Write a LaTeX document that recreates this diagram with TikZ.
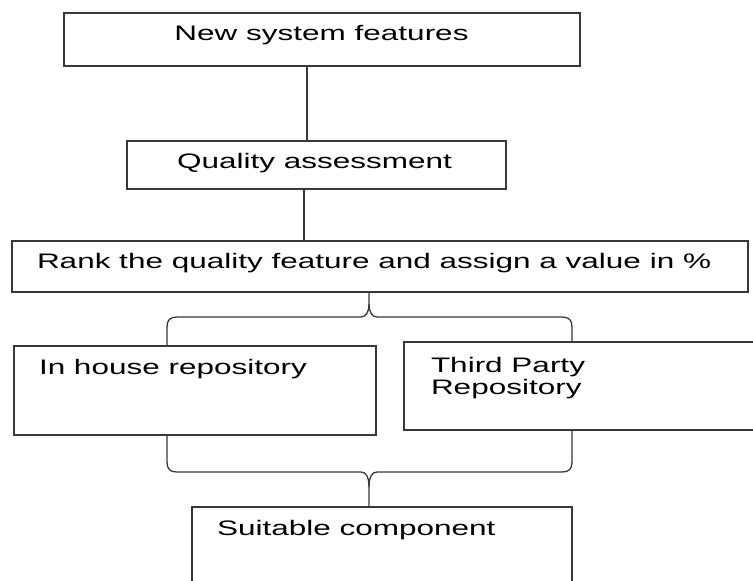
\documentclass[tikz,border=0pt]{standalone}
\usepackage{fontspec}
\setmainfont{Liberation Sans}[FakeStretch=1.5]
\usetikzlibrary{calc}
\begin{document}
\begin{tikzpicture}[x=1pt,y=-1pt,
  boxnode/.style={draw=black!78,line width=1.3pt,rectangle,inner sep=0pt,outer sep=0pt},
  lbl/.style={inner sep=0pt,outer sep=0pt,text=black,font=\fontsize{21}{21.5}\selectfont},
  conn/.style={draw=black!78,line width=1.3pt}]
\useasboundingbox (0,0) rectangle (753,581);
\fill[white] (0,0) rectangle (753,581);
\clip (0,0) rectangle (753,581);
% boxes
\node[boxnode,minimum width=516pt,minimum height=53pt] (b1) at (322,39.5) {};
\node[boxnode,minimum width=379pt,minimum height=48pt] (b2) at (316.5,165) {};
\node[boxnode,minimum width=736pt,minimum height=51pt] (b3) at (380,266.5) {};
\node[boxnode,minimum width=362pt,minimum height=89pt] (b4) at (195,390.5) {};
\node[boxnode,minimum width=376pt,minimum height=88pt] (b5) at (592,386) {};
\node[boxnode,minimum width=380pt,minimum height=93pt] (b6) at (382,553.5) {};
% texts
\node[lbl,anchor=base] (t1) at (321.5,40) {New system features};
\node[lbl,anchor=base] (t2) at (314.5,168) {Quality assessment};
\node[lbl,anchor=base west] (t3) at (37,268) {Rank the quality feature and assign a value in \%};
\node[lbl,anchor=base west] (t4) at (39,374) {In house repository};
\node[lbl,anchor=north west,align=left] (t5) at (431,357.7) {Third Party\\[0.5pt]Repository};
\node[lbl,anchor=base west] (t6) at (217,535) {Suitable component};
% straight connectors
\draw[conn] ([xshift=-15pt]b1.south) -- ([xshift=-15pt]b1.south |- b2.north);
\draw[conn] ([xshift=-12.5pt]b2.south) -- ([xshift=-12.5pt]b2.south |- b3.north);
% top brace
\coordinate (tt) at ([xshift=-11pt]b3.south);
\coordinate (tl) at ([xshift=-28pt]b4.north);
\coordinate (tr) at ([xshift=-20pt]b5.north);
\draw[conn] (tl) -- ($(tl|-tt)+(0,35)$) .. controls ($(tl|-tt)+(0,28)$) and ($(tl|-tt)+(3,25)$) .. ($(tl|-tt)+(10,25)$)
  -- ($(tt)+(-8,25)$) .. controls ($(tt)+(-3,25)$) and ($(tt)+(0,20)$) .. ($(tt)+(0,12)$) -- (tt);
\draw[conn] ($(tt)+(0,12)$) .. controls ($(tt)+(0,20)$) and ($(tt)+(3,25)$) .. ($(tt)+(8,25)$)
  -- ($(tr|-tt)+(-10,25)$) .. controls ($(tr|-tt)+(-3,25)$) and ($(tr|-tt)+(0,28)$) .. ($(tr|-tt)+(0,35)$) -- (tr);
% bottom brace
\coordinate (bt) at ([xshift=-13pt]b6.north);
\coordinate (bl) at ([xshift=-28pt]b4.south);
\coordinate (br) at ([xshift=-20pt]b5.south);
\draw[conn] (bl) -- ($(bl|-bt)+(0,-45)$) .. controls ($(bl|-bt)+(0,-38)$) and ($(bl|-bt)+(3,-35)$) .. ($(bl|-bt)+(10,-35)$)
  -- ($(bt)+(-8,-35)$) .. controls ($(bt)+(-3,-35)$) and ($(bt)+(0,-30)$) .. ($(bt)+(0,-20)$) -- (bt);
\draw[conn] ($(bt)+(0,-20)$) .. controls ($(bt)+(0,-30)$) and ($(bt)+(3,-35)$) .. ($(bt)+(8,-35)$)
  -- ($(br|-bt)+(-10,-35)$) .. controls ($(br|-bt)+(-3,-35)$) and ($(br|-bt)+(0,-38)$) .. ($(br|-bt)+(0,-45)$) -- (br);
\end{tikzpicture}
\end{document}
